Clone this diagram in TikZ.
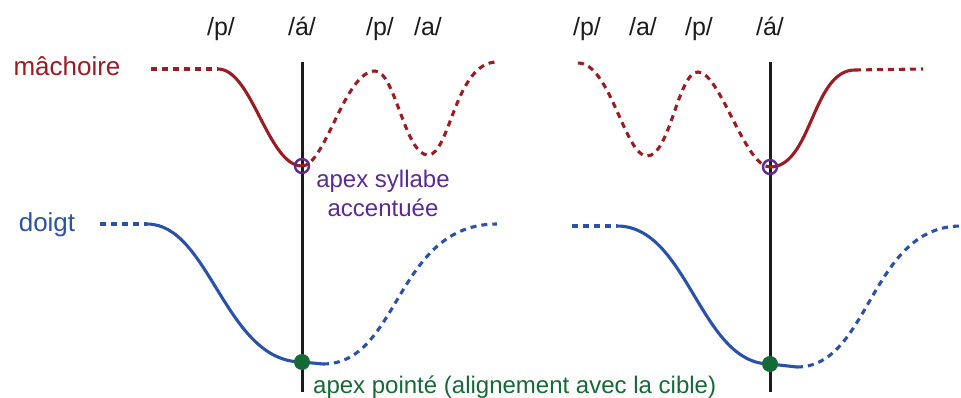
\documentclass[tikz,border=0pt]{standalone}
\usepackage{fontspec}
\setmainfont{Liberation Sans}
\definecolor{jawred}{HTML}{9B1C22}
\definecolor{fingerblue}{HTML}{2A52AA}
\definecolor{apexpurple}{HTML}{5B2A94}
\definecolor{apexgreen}{HTML}{146B35}
\definecolor{inkgray}{HTML}{1C1C1C}
\tikzset{
  phon/.style={text=inkgray, anchor=base, inner sep=0pt, font=\fontsize{25}{29}\selectfont},
  namelbl/.style={anchor=base, inner sep=0pt, font=\fontsize{26}{30}\selectfont},
  annot/.style={anchor=base, inner sep=0pt, font=\fontsize{24}{28}\selectfont},
  axisline/.style={draw=inkgray, line width=3pt},
  jawsolid/.style={draw=jawred, line width=3.1pt},
  jawdash/.style={draw=jawred, line width=3.1pt, dash pattern=on 6pt off 5pt},
  fingsolid/.style={draw=fingerblue, line width=3.1pt},
  fingdash/.style={draw=fingerblue, line width=3.1pt, dash pattern=on 6pt off 5pt},
  ring/.style={circle, draw=apexpurple, line width=2.4pt, minimum size=14pt, inner sep=0pt},
  gdot/.style={circle, fill=apexgreen, minimum size=16pt, inner sep=0pt},
}
\begin{document}
\begin{tikzpicture}[x=1pt,y=-1pt]
\useasboundingbox (0,0) rectangle (961,398);
% labels
\node[phon] (p1) at (221,36) {/p/};
\node[phon] (a1) at (302,36) {/á/};
\node[phon] (p2) at (380,36) {/p/};
\node[phon] (a2) at (428,36) {/a/};
\node[phon] (p3) at (587,36) {/p/};
\node[phon] (a3) at (643,36) {/a/};
\node[phon] (p4) at (699,36) {/p/};
\node[phon] (a4) at (770,36) {/á/};
\node[namelbl, text=jawred] (jaw) at (67,76) {mâchoire};
\node[namelbl, text=fingerblue] (fing) at (47,232) {doigt};
% vertical lines
\coordinate (vtL) at (302,62); \coordinate (vbL) at (302,392);
\coordinate (vtR) at (770,62); \coordinate (vbR) at (770,392);
\draw[axisline] (vtL) -- (vbL);
\draw[axisline] (vtR) -- (vbR);
% left jaw
\coordinate (j0) at (151,69); \coordinate (j1) at (218,69);
\coordinate (jA) at (302,166);
\coordinate (j2) at (375,71); \coordinate (j3) at (428,155); \coordinate (j4) at (497,62);
\draw[jawdash] (j0) -- (j1);
\draw[jawsolid] (j1) .. controls (252,69) and (268,166) .. (jA);
\draw[jawdash] (jA) .. controls (325,166) and (345,71) .. (j2)
  .. controls (395,71) and (405,155) .. (j3)
  .. controls (450,155) and (455,62) .. (j4);
% right jaw
\coordinate (k0) at (578,63); \coordinate (k1) at (647,156); \coordinate (k2) at (698,72);
\coordinate (kA) at (770,167); \coordinate (k3) at (855,70); \coordinate (k4) at (923,69);
\draw[jawdash] (k0) .. controls (610,63) and (625,156) .. (k1)
  .. controls (670,156) and (678,72) .. (k2)
  .. controls (720,72) and (745,167) .. (kA);
\draw[jawsolid] (kA) .. controls (812,167) and (812,70) .. (k3);
\draw[jawdash] (k3) -- (k4);
% left finger
\coordinate (f0) at (100,224); \coordinate (f1) at (147,224);
\coordinate (fA) at (302,362); \coordinate (f2) at (323,364); \coordinate (f3) at (497,224);
\draw[fingdash] (f0) -- (f1);
\draw[fingsolid] (f1) .. controls (210,224) and (225,362) .. (fA) -- (f2);
\draw[fingdash] (f2) .. controls (400,364) and (395,224) .. (f3);
% right finger
\coordinate (g0) at (572,226); \coordinate (g1) at (617,226);
\coordinate (gA) at (770,364); \coordinate (g2) at (797,367); \coordinate (g3) at (961,226);
\draw[fingdash] (g0) -- (g1);
\draw[fingsolid] (g1) .. controls (688,226) and (700,364) .. (gA) -- (g2);
\draw[fingdash] (g2) .. controls (870,367) and (870,226) .. (g3);
% markers
\node[ring] (ringL) at (jA) {};
\node[ring] (ringR) at (kA) {};
\node[gdot] (dotL) at (fA) {};
\node[gdot] (dotR) at (gA) {};
% annotations
\node[annot, text=apexpurple] (ann1) at (383,188) {apex syllabe};
\node[annot, text=apexpurple] (ann2) at (383,217) {accentuée};
\node[annot, text=apexgreen, anchor=base west] (ann3) at (313,393) {apex pointé (alignement avec la cible)};
\end{tikzpicture}
\end{document}
